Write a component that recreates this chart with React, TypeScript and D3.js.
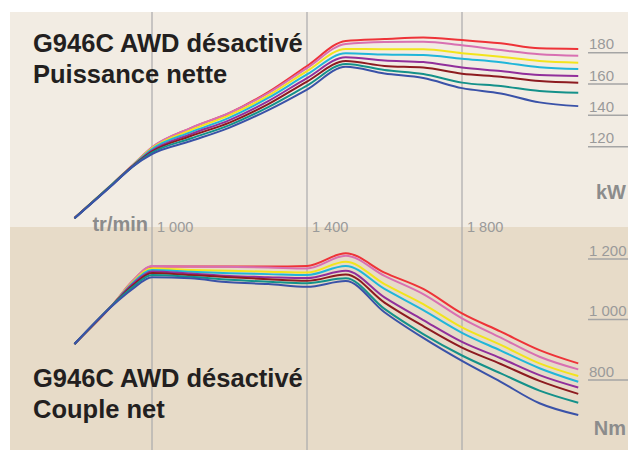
import React, { useEffect, useRef } from 'react';
import * as d3 from 'd3';

// engine speed (tr/min)
const rpm = [800, 900, 950, 1000, 1100, 1200, 1300, 1400, 1500, 1600, 1700, 1800, 1900, 2000, 2100];

// net power (kW), one curve per colour, top to bottom
const powerRed = [74.4, 96.7, 108.2, 119.4, 131.9, 141.5, 154.9, 171.5, 187.5, 188.7, 189.7, 188.1, 186.0, 182.8, 182.4];
const powerPink = [74.4, 96.7, 108.2, 119.7, 131.9, 141.5, 154.2, 170.2, 185.6, 186.8, 187.0, 184.7, 181.7, 179.0, 178.1];
const powerYellow = [74.4, 96.7, 108.0, 119.1, 130.6, 140.2, 152.6, 168.3, 182.4, 182.2, 182.2, 179.7, 177.4, 174.7, 173.6];
const powerCyan = [74.4, 96.7, 107.9, 118.5, 129.3, 138.6, 151.1, 166.1, 179.6, 178.8, 178.5, 176.1, 173.9, 170.7, 169.6];
const powerPurple = [74.4, 96.4, 107.6, 117.5, 128.0, 137.0, 149.1, 163.8, 177.1, 175.0, 174.0, 170.5, 168.3, 165.7, 165.1];
const powerDarkRed = [74.4, 96.4, 107.6, 116.9, 126.8, 135.4, 147.2, 161.6, 174.7, 171.5, 170.5, 166.6, 164.7, 161.9, 160.8];
const powerTeal = [74.4, 96.4, 107.3, 116.2, 125.2, 133.8, 145.3, 159.0, 172.8, 168.9, 166.4, 160.9, 158.7, 155.5, 154.4];
const powerBlue = [74.4, 96.1, 107.3, 115.3, 123.6, 132.2, 143.4, 156.5, 171.0, 166.7, 163.8, 157.4, 154.0, 148.3, 145.9];

// net torque (Nm)
const torqueRed = [919, 1051, 1127, 1175, 1175, 1175, 1175, 1177, 1219, 1155, 1101, 1020, 960, 899, 855];
const torquePink = [919, 1051, 1127, 1177, 1175, 1174, 1172, 1169, 1211, 1144, 1084, 1004, 940, 877, 835];
const torqueYellow = [919, 1051, 1124, 1169, 1164, 1161, 1158, 1155, 1191, 1117, 1051, 974, 916, 855, 813];
const torqueCyan = [919, 1051, 1121, 1164, 1158, 1153, 1150, 1147, 1177, 1101, 1031, 956, 897, 839, 794];
const torquePurple = [919, 1051, 1117, 1159, 1152, 1144, 1140, 1137, 1161, 1073, 998, 926, 872, 816, 775];
const torqueDarkRed = [919, 1050, 1112, 1154, 1147, 1140, 1133, 1128, 1149, 1056, 978, 907, 853, 797, 754];
const torqueTeal = [919, 1050, 1107, 1147, 1141, 1131, 1125, 1120, 1136, 1035, 952, 881, 822, 765, 725];
const torqueBlue = [919, 1048, 1101, 1140, 1136, 1123, 1117, 1108, 1127, 1024, 939, 863, 794, 723, 684];

const lineColors = ['#ee3338', '#d870b2', '#f2e41c', '#20b6d9', '#912f9b', '#8d1b20', '#14918a', '#3a52a8'];
const powerSeries = [powerRed, powerPink, powerYellow, powerCyan, powerPurple, powerDarkRed, powerTeal, powerBlue];
const torqueSeries = [torqueRed, torquePink, torqueYellow, torqueCyan, torquePurple, torqueDarkRed, torqueTeal, torqueBlue];

const rpmTicks = [1000, 1400, 1800];
const powerTicks = [120, 140, 160, 180];
const torqueTicks = [800, 1000, 1200];

const W = 628;
const H = 450;
const FONT = "'Liberation Sans', Arial, Helvetica, sans-serif";

const fr = d3.formatLocale({ decimal: ',', thousands: ' ', grouping: [3], currency: ['', ''] });
const fmt = fr.format(',');

const App: React.FC = () => {
  const ref = useRef<SVGSVGElement>(null);

  useEffect(() => {
    if (!ref.current) return;
    const svg = d3.select(ref.current);
    svg.selectAll('*').remove();

    const x = d3.scaleLinear().domain([1000, 1800]).range([152, 462]);
    const yPower = d3.scaleLinear().domain([120, 180]).range([146.7, 52.7]);
    const yTorque = d3.scaleLinear().domain([800, 1200]).range([380, 259]);

    // panels
    svg.append('rect').attr('x', 10).attr('y', 12).attr('width', W - 10).attr('height', 215).attr('fill', '#f2ece3');
    svg.append('rect').attr('x', 10).attr('y', 227).attr('width', W - 10).attr('height', H - 227).attr('fill', '#e7dbc8');

    // vertical grid
    svg
      .append('g')
      .selectAll('line')
      .data(rpmTicks)
      .join('line')
      .attr('x1', (d) => x(d))
      .attr('x2', (d) => x(d))
      .attr('y1', 12)
      .attr('y2', H)
      .attr('stroke', '#aaaaac')
      .attr('stroke-width', 1.2);

    // right-side y ticks
    const yTicks = (ticks: number[], y: d3.ScaleLinear<number, number>) => {
      const g = svg.append('g');
      g.selectAll('line')
        .data(ticks)
        .join('line')
        .attr('x1', 588)
        .attr('x2', W)
        .attr('y1', (d) => y(d))
        .attr('y2', (d) => y(d))
        .attr('stroke', '#a5a5a5')
        .attr('stroke-width', 1.5);
      g.selectAll('text')
        .data(ticks)
        .join('text')
        .attr('x', 589)
        .attr('y', (d) => y(d) - 3.5)
        .attr('font-family', FONT)
        .attr('font-size', 15)
        .attr('fill', '#9a9a9a')
        .text((d) => fmt(d));
    };
    yTicks(powerTicks, yPower);
    yTicks(torqueTicks, yTorque);

    // curves
    const drawLines = (series: number[][], y: d3.ScaleLinear<number, number>) => {
      const line = d3
        .line<number>()
        .x((_, i) => x(rpm[i]))
        .y((d) => y(d))
        .curve(d3.curveMonotoneX);
      svg
        .append('g')
        .selectAll('path')
        .data(series)
        .join('path')
        .attr('d', (d) => line(d))
        .attr('fill', 'none')
        .attr('stroke', (_, i) => lineColors[i])
        .attr('stroke-width', 2)
        .attr('stroke-linejoin', 'round');
    };
    drawLines(powerSeries, yPower);
    drawLines(torqueSeries, yTorque);

    // x tick labels
    svg
      .append('g')
      .selectAll('text')
      .data(rpmTicks)
      .join('text')
      .attr('x', (d) => x(d) + 5)
      .attr('y', 231.5)
      .attr('font-family', FONT)
      .attr('font-size', 14.5)
      .attr('fill', '#9a9a9a')
      .text((d) => fmt(d));

    const unit = (label: string, xx: number, yy: number, anchor: string) =>
      svg
        .append('text')
        .attr('x', xx)
        .attr('y', yy)
        .attr('text-anchor', anchor)
        .attr('font-family', FONT)
        .attr('font-weight', 'bold')
        .attr('font-size', 20)
        .attr('fill', '#8c8c8c')
        .text(label);
    unit('tr/min', 148, 231, 'end');
    unit('kW', 626, 199, 'end');
    unit('Nm', 626, 435, 'end');

    // titles
    const title = (lines: string[], yy: number) =>
      svg
        .append('text')
        .attr('font-family', FONT)
        .attr('font-weight', 'bold')
        .attr('font-size', 25.5)
        .attr('fill', '#231f20')
        .selectAll('tspan')
        .data(lines)
        .join('tspan')
        .attr('x', 33)
        .attr('y', (_, i) => yy + i * 30.5)
        .text((d) => d);
    title(['G946C AWD désactivé', 'Puissance nette'], 52);
    title(['G946C AWD désactivé', 'Couple net'], 387);
  }, []);

  return (
    <svg
      ref={ref}
      width={W}
      height={H}
      style={{ position: 'absolute', left: 0, top: 0, background: '#ffffff' }}
    />
  );
};

export default App;
